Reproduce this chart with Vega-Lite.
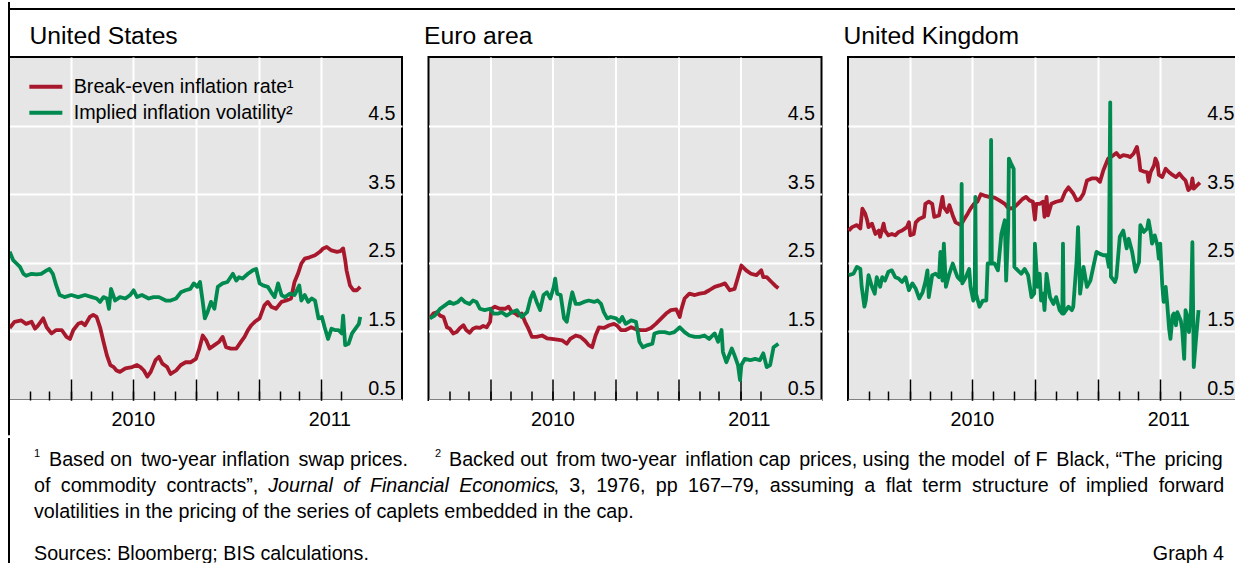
{
"$schema": "https://vega.github.io/schema/vega-lite/v6.json",
"padding": {"left": 6, "top": 0, "right": -5, "bottom": -3},
"background": "white",
"config": {
  "font": "Liberation Sans",
  "view": {"stroke": "black", "strokeWidth": 2, "fill": "#e6e6e6"},
  "axis": {"labelFont": "Liberation Sans", "titleFont": "Liberation Sans"},
  "legend": {"labelFont": "Liberation Sans"},
  "text": {"font": "Liberation Sans"}
},
"datasets": {
"us": [
{"date":"2010-01-02","series":"bei","value":1.55},{"date":"2010-01-09","series":"bei","value":1.64},{"date":"2010-01-19","series":"bei","value":1.66},{"date":"2010-01-26","series":"bei","value":1.61},{"date":"2010-02-03","series":"bei","value":1.64},{"date":"2010-02-08","series":"bei","value":1.54},{"date":"2010-02-12","series":"bei","value":1.58},{"date":"2010-02-20","series":"bei","value":1.69},{"date":"2010-02-25","series":"bei","value":1.56},{"date":"2010-03-04","series":"bei","value":1.47},{"date":"2010-03-11","series":"bei","value":1.52},{"date":"2010-03-19","series":"bei","value":1.52},{"date":"2010-03-26","series":"bei","value":1.42},{"date":"2010-03-31","series":"bei","value":1.39},{"date":"2010-04-05","series":"bei","value":1.52},{"date":"2010-04-12","series":"bei","value":1.61},{"date":"2010-04-17","series":"bei","value":1.63},{"date":"2010-04-22","series":"bei","value":1.59},{"date":"2010-04-29","series":"bei","value":1.71},{"date":"2010-05-04","series":"bei","value":1.74},{"date":"2010-05-09","series":"bei","value":1.71},{"date":"2010-05-14","series":"bei","value":1.56},{"date":"2010-05-19","series":"bei","value":1.35},{"date":"2010-05-24","series":"bei","value":1.15},{"date":"2010-05-29","series":"bei","value":1.01},{"date":"2010-06-03","series":"bei","value":0.98},{"date":"2010-06-07","series":"bei","value":0.93},{"date":"2010-06-12","series":"bei","value":0.91},{"date":"2010-06-20","series":"bei","value":0.96},{"date":"2010-06-30","series":"bei","value":0.98},{"date":"2010-07-07","series":"bei","value":1.01},{"date":"2010-07-12","series":"bei","value":0.98},{"date":"2010-07-17","series":"bei","value":0.93},{"date":"2010-07-22","series":"bei","value":0.84},{"date":"2010-07-27","series":"bei","value":0.91},{"date":"2010-08-03","series":"bei","value":1.08},{"date":"2010-08-08","series":"bei","value":1.13},{"date":"2010-08-13","series":"bei","value":1.03},{"date":"2010-08-20","series":"bei","value":0.98},{"date":"2010-08-25","series":"bei","value":0.88},{"date":"2010-09-02","series":"bei","value":0.93},{"date":"2010-09-09","series":"bei","value":1.01},{"date":"2010-09-16","series":"bei","value":1.05},{"date":"2010-09-23","series":"bei","value":1.05},{"date":"2010-10-01","series":"bei","value":1.10},{"date":"2010-10-06","series":"bei","value":1.25},{"date":"2010-10-11","series":"bei","value":1.44},{"date":"2010-10-16","series":"bei","value":1.37},{"date":"2010-10-21","series":"bei","value":1.25},{"date":"2010-10-28","series":"bei","value":1.30},{"date":"2010-11-04","series":"bei","value":1.35},{"date":"2010-11-09","series":"bei","value":1.42},{"date":"2010-11-14","series":"bei","value":1.27},{"date":"2010-11-21","series":"bei","value":1.25},{"date":"2010-11-29","series":"bei","value":1.25},{"date":"2010-12-06","series":"bei","value":1.35},{"date":"2010-12-11","series":"bei","value":1.42},{"date":"2010-12-16","series":"bei","value":1.52},{"date":"2010-12-21","series":"bei","value":1.59},{"date":"2010-12-26","series":"bei","value":1.64},{"date":"2011-01-02","series":"bei","value":1.69},{"date":"2011-01-09","series":"bei","value":1.88},{"date":"2011-01-14","series":"bei","value":1.93},{"date":"2011-01-19","series":"bei","value":1.86},{"date":"2011-01-26","series":"bei","value":1.83},{"date":"2011-02-03","series":"bei","value":1.93},{"date":"2011-02-10","series":"bei","value":1.95},{"date":"2011-02-17","series":"bei","value":1.98},{"date":"2011-02-22","series":"bei","value":2.22},{"date":"2011-02-27","series":"bei","value":2.34},{"date":"2011-03-04","series":"bei","value":2.49},{"date":"2011-03-09","series":"bei","value":2.56},{"date":"2011-03-16","series":"bei","value":2.58},{"date":"2011-03-24","series":"bei","value":2.61},{"date":"2011-03-31","series":"bei","value":2.66},{"date":"2011-04-05","series":"bei","value":2.71},{"date":"2011-04-10","series":"bei","value":2.73},{"date":"2011-04-17","series":"bei","value":2.68},{"date":"2011-04-25","series":"bei","value":2.66},{"date":"2011-04-30","series":"bei","value":2.67},{"date":"2011-05-04","series":"bei","value":2.71},{"date":"2011-05-07","series":"bei","value":2.54},{"date":"2011-05-09","series":"bei","value":2.39},{"date":"2011-05-14","series":"bei","value":2.17},{"date":"2011-05-19","series":"bei","value":2.10},{"date":"2011-05-24","series":"bei","value":2.10},{"date":"2011-05-29","series":"bei","value":2.15},
{"date":"2010-01-02","series":"vol","value":2.66},{"date":"2010-01-07","series":"vol","value":2.54},{"date":"2010-01-12","series":"vol","value":2.49},{"date":"2010-01-17","series":"vol","value":2.44},{"date":"2010-01-22","series":"vol","value":2.34},{"date":"2010-01-26","series":"vol","value":2.31},{"date":"2010-02-03","series":"vol","value":2.34},{"date":"2010-02-10","series":"vol","value":2.33},{"date":"2010-02-17","series":"vol","value":2.34},{"date":"2010-02-25","series":"vol","value":2.39},{"date":"2010-03-01","series":"vol","value":2.41},{"date":"2010-03-06","series":"vol","value":2.34},{"date":"2010-03-11","series":"vol","value":2.17},{"date":"2010-03-16","series":"vol","value":2.03},{"date":"2010-03-23","series":"vol","value":2.00},{"date":"2010-04-02","series":"vol","value":2.03},{"date":"2010-04-12","series":"vol","value":2.00},{"date":"2010-04-22","series":"vol","value":2.03},{"date":"2010-05-02","series":"vol","value":2.00},{"date":"2010-05-09","series":"vol","value":1.98},{"date":"2010-05-14","series":"vol","value":1.93},{"date":"2010-05-19","series":"vol","value":2.00},{"date":"2010-05-24","series":"vol","value":1.98},{"date":"2010-05-27","series":"vol","value":1.83},{"date":"2010-05-30","series":"vol","value":2.12},{"date":"2010-06-05","series":"vol","value":1.95},{"date":"2010-06-12","series":"vol","value":2.00},{"date":"2010-06-20","series":"vol","value":1.98},{"date":"2010-06-27","series":"vol","value":2.03},{"date":"2010-07-02","series":"vol","value":2.10},{"date":"2010-07-07","series":"vol","value":2.00},{"date":"2010-07-14","series":"vol","value":2.03},{"date":"2010-07-24","series":"vol","value":1.98},{"date":"2010-07-31","series":"vol","value":2.00},{"date":"2010-08-08","series":"vol","value":2.00},{"date":"2010-08-18","series":"vol","value":1.95},{"date":"2010-08-25","series":"vol","value":1.95},{"date":"2010-09-02","series":"vol","value":1.98},{"date":"2010-09-09","series":"vol","value":2.07},{"date":"2010-09-16","series":"vol","value":2.10},{"date":"2010-09-23","series":"vol","value":2.12},{"date":"2010-09-28","series":"vol","value":2.20},{"date":"2010-10-03","series":"vol","value":2.15},{"date":"2010-10-07","series":"vol","value":2.22},{"date":"2010-10-11","series":"vol","value":1.93},{"date":"2010-10-14","series":"vol","value":1.69},{"date":"2010-10-18","series":"vol","value":1.78},{"date":"2010-10-23","series":"vol","value":1.93},{"date":"2010-10-28","series":"vol","value":1.83},{"date":"2010-11-02","series":"vol","value":2.15},{"date":"2010-11-09","series":"vol","value":2.20},{"date":"2010-11-16","series":"vol","value":2.22},{"date":"2010-11-24","series":"vol","value":2.34},{"date":"2010-11-29","series":"vol","value":2.24},{"date":"2010-12-03","series":"vol","value":2.29},{"date":"2010-12-08","series":"vol","value":2.27},{"date":"2010-12-16","series":"vol","value":2.34},{"date":"2010-12-23","series":"vol","value":2.39},{"date":"2010-12-28","series":"vol","value":2.41},{"date":"2011-01-02","series":"vol","value":2.20},{"date":"2011-01-07","series":"vol","value":2.17},{"date":"2011-01-14","series":"vol","value":2.15},{"date":"2011-01-19","series":"vol","value":2.07},{"date":"2011-01-24","series":"vol","value":2.00},{"date":"2011-01-29","series":"vol","value":2.20},{"date":"2011-02-03","series":"vol","value":2.03},{"date":"2011-02-08","series":"vol","value":2.00},{"date":"2011-02-15","series":"vol","value":2.05},{"date":"2011-02-22","series":"vol","value":2.03},{"date":"2011-03-01","series":"vol","value":2.17},{"date":"2011-03-04","series":"vol","value":1.95},{"date":"2011-03-09","series":"vol","value":2.03},{"date":"2011-03-14","series":"vol","value":1.93},{"date":"2011-03-19","series":"vol","value":1.98},{"date":"2011-03-24","series":"vol","value":1.95},{"date":"2011-03-29","series":"vol","value":1.69},{"date":"2011-04-03","series":"vol","value":1.71},{"date":"2011-04-07","series":"vol","value":1.56},{"date":"2011-04-12","series":"vol","value":1.39},{"date":"2011-04-17","series":"vol","value":1.54},{"date":"2011-04-22","series":"vol","value":1.52},{"date":"2011-04-27","series":"vol","value":1.52},{"date":"2011-05-02","series":"vol","value":1.47},{"date":"2011-05-04","series":"vol","value":1.73},{"date":"2011-05-07","series":"vol","value":1.30},{"date":"2011-05-12","series":"vol","value":1.32},{"date":"2011-05-17","series":"vol","value":1.47},{"date":"2011-05-22","series":"vol","value":1.54},{"date":"2011-05-27","series":"vol","value":1.61},{"date":"2011-05-29","series":"vol","value":1.71}
],
"ea": [
{"date":"2010-01-03","series":"bei","value":1.69},{"date":"2010-01-08","series":"bei","value":1.76},{"date":"2010-01-13","series":"bei","value":1.78},{"date":"2010-01-18","series":"bei","value":1.73},{"date":"2010-01-23","series":"bei","value":1.71},{"date":"2010-01-28","series":"bei","value":1.56},{"date":"2010-02-01","series":"bei","value":1.54},{"date":"2010-02-06","series":"bei","value":1.47},{"date":"2010-02-11","series":"bei","value":1.49},{"date":"2010-02-16","series":"bei","value":1.55},{"date":"2010-02-21","series":"bei","value":1.59},{"date":"2010-02-25","series":"bei","value":1.52},{"date":"2010-03-02","series":"bei","value":1.48},{"date":"2010-03-07","series":"bei","value":1.54},{"date":"2010-03-12","series":"bei","value":1.56},{"date":"2010-03-17","series":"bei","value":1.55},{"date":"2010-03-22","series":"bei","value":1.58},{"date":"2010-03-27","series":"bei","value":1.56},{"date":"2010-04-01","series":"bei","value":1.64},{"date":"2010-04-03","series":"bei","value":1.83},{"date":"2010-04-08","series":"bei","value":1.86},{"date":"2010-04-15","series":"bei","value":1.83},{"date":"2010-04-23","series":"bei","value":1.83},{"date":"2010-04-28","series":"bei","value":1.86},{"date":"2010-05-03","series":"bei","value":1.78},{"date":"2010-05-08","series":"bei","value":1.76},{"date":"2010-05-12","series":"bei","value":1.73},{"date":"2010-05-17","series":"bei","value":1.76},{"date":"2010-05-22","series":"bei","value":1.64},{"date":"2010-05-27","series":"bei","value":1.54},{"date":"2010-06-01","series":"bei","value":1.42},{"date":"2010-06-08","series":"bei","value":1.42},{"date":"2010-06-16","series":"bei","value":1.44},{"date":"2010-06-23","series":"bei","value":1.40},{"date":"2010-06-30","series":"bei","value":1.39},{"date":"2010-07-08","series":"bei","value":1.38},{"date":"2010-07-15","series":"bei","value":1.37},{"date":"2010-07-22","series":"bei","value":1.32},{"date":"2010-07-27","series":"bei","value":1.39},{"date":"2010-08-04","series":"bei","value":1.44},{"date":"2010-08-11","series":"bei","value":1.42},{"date":"2010-08-18","series":"bei","value":1.36},{"date":"2010-08-23","series":"bei","value":1.30},{"date":"2010-08-28","series":"bei","value":1.27},{"date":"2010-09-02","series":"bei","value":1.44},{"date":"2010-09-07","series":"bei","value":1.56},{"date":"2010-09-14","series":"bei","value":1.55},{"date":"2010-09-22","series":"bei","value":1.59},{"date":"2010-09-29","series":"bei","value":1.61},{"date":"2010-10-04","series":"bei","value":1.58},{"date":"2010-10-09","series":"bei","value":1.52},{"date":"2010-10-16","series":"bei","value":1.52},{"date":"2010-10-24","series":"bei","value":1.56},{"date":"2010-10-31","series":"bei","value":1.53},{"date":"2010-11-07","series":"bei","value":1.52},{"date":"2010-11-15","series":"bei","value":1.52},{"date":"2010-11-22","series":"bei","value":1.55},{"date":"2010-11-29","series":"bei","value":1.61},{"date":"2010-12-07","series":"bei","value":1.69},{"date":"2010-12-14","series":"bei","value":1.76},{"date":"2010-12-21","series":"bei","value":1.81},{"date":"2010-12-29","series":"bei","value":1.82},{"date":"2011-01-03","series":"bei","value":1.71},{"date":"2011-01-05","series":"bei","value":1.81},{"date":"2011-01-10","series":"bei","value":1.98},{"date":"2011-01-17","series":"bei","value":2.05},{"date":"2011-01-25","series":"bei","value":2.03},{"date":"2011-02-01","series":"bei","value":2.05},{"date":"2011-02-08","series":"bei","value":2.06},{"date":"2011-02-15","series":"bei","value":2.10},{"date":"2011-02-23","series":"bei","value":2.15},{"date":"2011-03-02","series":"bei","value":2.17},{"date":"2011-03-10","series":"bei","value":2.20},{"date":"2011-03-17","series":"bei","value":2.10},{"date":"2011-03-24","series":"bei","value":2.12},{"date":"2011-03-29","series":"bei","value":2.29},{"date":"2011-04-03","series":"bei","value":2.46},{"date":"2011-04-10","series":"bei","value":2.39},{"date":"2011-04-17","series":"bei","value":2.34},{"date":"2011-04-25","series":"bei","value":2.32},{"date":"2011-05-02","series":"bei","value":2.39},{"date":"2011-05-05","series":"bei","value":2.29},{"date":"2011-05-10","series":"bei","value":2.29},{"date":"2011-05-17","series":"bei","value":2.22},{"date":"2011-05-22","series":"bei","value":2.17},{"date":"2011-05-27","series":"bei","value":2.13},
{"date":"2010-01-03","series":"vol","value":1.69},{"date":"2010-01-10","series":"vol","value":1.73},{"date":"2010-01-18","series":"vol","value":1.83},{"date":"2010-01-25","series":"vol","value":1.88},{"date":"2010-02-01","series":"vol","value":1.93},{"date":"2010-02-06","series":"vol","value":1.90},{"date":"2010-02-13","series":"vol","value":1.93},{"date":"2010-02-18","series":"vol","value":1.98},{"date":"2010-02-23","series":"vol","value":1.93},{"date":"2010-03-02","series":"vol","value":1.90},{"date":"2010-03-07","series":"vol","value":1.95},{"date":"2010-03-12","series":"vol","value":1.93},{"date":"2010-03-17","series":"vol","value":1.83},{"date":"2010-03-24","series":"vol","value":1.81},{"date":"2010-04-01","series":"vol","value":1.83},{"date":"2010-04-06","series":"vol","value":1.76},{"date":"2010-04-13","series":"vol","value":1.76},{"date":"2010-04-18","series":"vol","value":1.78},{"date":"2010-04-25","series":"vol","value":1.73},{"date":"2010-05-03","series":"vol","value":1.78},{"date":"2010-05-10","series":"vol","value":1.81},{"date":"2010-05-17","series":"vol","value":1.71},{"date":"2010-05-25","series":"vol","value":1.78},{"date":"2010-05-30","series":"vol","value":1.98},{"date":"2010-06-03","series":"vol","value":2.07},{"date":"2010-06-08","series":"vol","value":1.93},{"date":"2010-06-13","series":"vol","value":1.81},{"date":"2010-06-18","series":"vol","value":2.03},{"date":"2010-06-23","series":"vol","value":2.07},{"date":"2010-06-28","series":"vol","value":1.98},{"date":"2010-07-03","series":"vol","value":2.15},{"date":"2010-07-05","series":"vol","value":2.27},{"date":"2010-07-08","series":"vol","value":2.05},{"date":"2010-07-13","series":"vol","value":2.03},{"date":"2010-07-18","series":"vol","value":1.69},{"date":"2010-07-22","series":"vol","value":1.64},{"date":"2010-07-27","series":"vol","value":1.93},{"date":"2010-07-30","series":"vol","value":2.07},{"date":"2010-08-04","series":"vol","value":1.90},{"date":"2010-08-09","series":"vol","value":1.90},{"date":"2010-08-16","series":"vol","value":1.93},{"date":"2010-08-23","series":"vol","value":1.95},{"date":"2010-08-31","series":"vol","value":1.93},{"date":"2010-09-05","series":"vol","value":1.95},{"date":"2010-09-10","series":"vol","value":1.90},{"date":"2010-09-14","series":"vol","value":1.78},{"date":"2010-09-19","series":"vol","value":1.69},{"date":"2010-09-24","series":"vol","value":1.71},{"date":"2010-10-02","series":"vol","value":1.69},{"date":"2010-10-07","series":"vol","value":1.64},{"date":"2010-10-11","series":"vol","value":1.71},{"date":"2010-10-16","series":"vol","value":1.61},{"date":"2010-10-24","series":"vol","value":1.66},{"date":"2010-10-31","series":"vol","value":1.64},{"date":"2010-11-05","series":"vol","value":1.35},{"date":"2010-11-10","series":"vol","value":1.27},{"date":"2010-11-17","series":"vol","value":1.30},{"date":"2010-11-24","series":"vol","value":1.32},{"date":"2010-11-27","series":"vol","value":1.47},{"date":"2010-12-04","series":"vol","value":1.49},{"date":"2010-12-12","series":"vol","value":1.49},{"date":"2010-12-19","series":"vol","value":1.47},{"date":"2010-12-26","series":"vol","value":1.49},{"date":"2011-01-03","series":"vol","value":1.56},{"date":"2011-01-10","series":"vol","value":1.49},{"date":"2011-01-17","series":"vol","value":1.44},{"date":"2011-01-25","series":"vol","value":1.42},{"date":"2011-02-01","series":"vol","value":1.42},{"date":"2011-02-08","series":"vol","value":1.44},{"date":"2011-02-15","series":"vol","value":1.39},{"date":"2011-02-23","series":"vol","value":1.47},{"date":"2011-02-28","series":"vol","value":1.35},{"date":"2011-03-05","series":"vol","value":1.52},{"date":"2011-03-07","series":"vol","value":1.20},{"date":"2011-03-12","series":"vol","value":1.05},{"date":"2011-03-20","series":"vol","value":1.25},{"date":"2011-03-24","series":"vol","value":1.15},{"date":"2011-03-29","series":"vol","value":1.01},{"date":"2011-04-01","series":"vol","value":0.79},{"date":"2011-04-03","series":"vol","value":1.01},{"date":"2011-04-08","series":"vol","value":1.10},{"date":"2011-04-16","series":"vol","value":1.08},{"date":"2011-04-23","series":"vol","value":1.10},{"date":"2011-04-30","series":"vol","value":1.08},{"date":"2011-05-05","series":"vol","value":1.18},{"date":"2011-05-10","series":"vol","value":0.98},{"date":"2011-05-15","series":"vol","value":1.01},{"date":"2011-05-20","series":"vol","value":1.27},{"date":"2011-05-27","series":"vol","value":1.32}
],
"uk": [
{"date":"2010-01-02","series":"bei","value":2.97},{"date":"2010-01-07","series":"bei","value":3.02},{"date":"2010-01-14","series":"bei","value":3.05},{"date":"2010-01-19","series":"bei","value":3.00},{"date":"2010-01-22","series":"bei","value":3.29},{"date":"2010-01-26","series":"bei","value":3.22},{"date":"2010-01-29","series":"bei","value":3.12},{"date":"2010-01-31","series":"bei","value":3.02},{"date":"2010-02-05","series":"bei","value":3.07},{"date":"2010-02-10","series":"bei","value":2.92},{"date":"2010-02-15","series":"bei","value":2.97},{"date":"2010-02-17","series":"bei","value":2.88},{"date":"2010-02-22","series":"bei","value":3.07},{"date":"2010-02-24","series":"bei","value":2.97},{"date":"2010-03-01","series":"bei","value":2.90},{"date":"2010-03-06","series":"bei","value":2.92},{"date":"2010-03-11","series":"bei","value":2.90},{"date":"2010-03-16","series":"bei","value":2.95},{"date":"2010-03-21","series":"bei","value":2.97},{"date":"2010-03-28","series":"bei","value":3.02},{"date":"2010-03-31","series":"bei","value":3.09},{"date":"2010-04-02","series":"bei","value":2.90},{"date":"2010-04-07","series":"bei","value":2.92},{"date":"2010-04-10","series":"bei","value":3.09},{"date":"2010-04-15","series":"bei","value":3.14},{"date":"2010-04-22","series":"bei","value":3.17},{"date":"2010-04-24","series":"bei","value":3.36},{"date":"2010-04-29","series":"bei","value":3.39},{"date":"2010-05-04","series":"bei","value":3.36},{"date":"2010-05-07","series":"bei","value":3.17},{"date":"2010-05-14","series":"bei","value":3.19},{"date":"2010-05-19","series":"bei","value":3.46},{"date":"2010-05-21","series":"bei","value":3.31},{"date":"2010-05-26","series":"bei","value":3.24},{"date":"2010-05-29","series":"bei","value":3.34},{"date":"2010-06-03","series":"bei","value":3.19},{"date":"2010-06-07","series":"bei","value":3.09},{"date":"2010-06-15","series":"bei","value":3.05},{"date":"2010-06-20","series":"bei","value":3.14},{"date":"2010-06-25","series":"bei","value":3.22},{"date":"2010-06-29","series":"bei","value":3.29},{"date":"2010-07-04","series":"bei","value":3.36},{"date":"2010-07-09","series":"bei","value":3.39},{"date":"2010-07-14","series":"bei","value":3.50},{"date":"2010-07-19","series":"bei","value":3.48},{"date":"2010-07-26","series":"bei","value":3.46},{"date":"2010-08-03","series":"bei","value":3.45},{"date":"2010-08-10","series":"bei","value":3.41},{"date":"2010-08-18","series":"bei","value":3.36},{"date":"2010-08-22","series":"bei","value":3.31},{"date":"2010-08-27","series":"bei","value":3.29},{"date":"2010-09-01","series":"bei","value":3.31},{"date":"2010-09-06","series":"bei","value":3.36},{"date":"2010-09-13","series":"bei","value":3.43},{"date":"2010-09-18","series":"bei","value":3.46},{"date":"2010-09-23","series":"bei","value":3.41},{"date":"2010-09-28","series":"bei","value":3.39},{"date":"2010-10-01","series":"bei","value":3.13},{"date":"2010-10-03","series":"bei","value":3.36},{"date":"2010-10-08","series":"bei","value":3.36},{"date":"2010-10-13","series":"bei","value":3.39},{"date":"2010-10-15","series":"bei","value":3.17},{"date":"2010-10-18","series":"bei","value":3.46},{"date":"2010-10-20","series":"bei","value":3.19},{"date":"2010-10-25","series":"bei","value":3.36},{"date":"2010-11-01","series":"bei","value":3.39},{"date":"2010-11-09","series":"bei","value":3.41},{"date":"2010-11-14","series":"bei","value":3.53},{"date":"2010-11-19","series":"bei","value":3.60},{"date":"2010-11-26","series":"bei","value":3.51},{"date":"2010-12-01","series":"bei","value":3.41},{"date":"2010-12-06","series":"bei","value":3.43},{"date":"2010-12-11","series":"bei","value":3.51},{"date":"2010-12-16","series":"bei","value":3.70},{"date":"2010-12-23","series":"bei","value":3.73},{"date":"2010-12-30","series":"bei","value":3.73},{"date":"2011-01-04","series":"bei","value":3.68},{"date":"2011-01-09","series":"bei","value":3.85},{"date":"2011-01-16","series":"bei","value":4.02},{"date":"2011-01-24","series":"bei","value":4.07},{"date":"2011-01-28","series":"bei","value":4.10},{"date":"2011-02-02","series":"bei","value":4.04},{"date":"2011-02-07","series":"bei","value":4.07},{"date":"2011-02-13","series":"bei","value":4.06},{"date":"2011-02-17","series":"bei","value":4.04},{"date":"2011-02-22","series":"bei","value":4.09},{"date":"2011-02-27","series":"bei","value":4.19},{"date":"2011-03-02","series":"bei","value":4.02},{"date":"2011-03-04","series":"bei","value":3.85},{"date":"2011-03-09","series":"bei","value":3.83},{"date":"2011-03-14","series":"bei","value":3.82},{"date":"2011-03-16","series":"bei","value":3.68},{"date":"2011-03-19","series":"bei","value":3.82},{"date":"2011-03-24","series":"bei","value":3.92},{"date":"2011-03-26","series":"bei","value":4.02},{"date":"2011-03-29","series":"bei","value":3.95},{"date":"2011-03-31","series":"bei","value":3.78},{"date":"2011-04-05","series":"bei","value":3.75},{"date":"2011-04-10","series":"bei","value":3.87},{"date":"2011-04-15","series":"bei","value":3.82},{"date":"2011-04-20","series":"bei","value":3.78},{"date":"2011-04-25","series":"bei","value":3.75},{"date":"2011-04-30","series":"bei","value":3.80},{"date":"2011-05-04","series":"bei","value":3.75},{"date":"2011-05-09","series":"bei","value":3.70},{"date":"2011-05-13","series":"bei","value":3.56},{"date":"2011-05-17","series":"bei","value":3.60},{"date":"2011-05-19","series":"bei","value":3.73},{"date":"2011-05-21","series":"bei","value":3.58},{"date":"2011-05-26","series":"bei","value":3.63},{"date":"2011-05-30","series":"bei","value":3.67},
{"date":"2010-01-02","series":"vol","value":2.32},{"date":"2010-01-09","series":"vol","value":2.34},{"date":"2010-01-14","series":"vol","value":2.44},{"date":"2010-01-19","series":"vol","value":2.41},{"date":"2010-01-21","series":"vol","value":2.15},{"date":"2010-01-25","series":"vol","value":1.86},{"date":"2010-01-27","series":"vol","value":1.95},{"date":"2010-01-31","series":"vol","value":2.32},{"date":"2010-02-05","series":"vol","value":2.15},{"date":"2010-02-09","series":"vol","value":2.05},{"date":"2010-02-12","series":"vol","value":2.29},{"date":"2010-02-17","series":"vol","value":2.15},{"date":"2010-02-20","series":"vol","value":2.29},{"date":"2010-02-24","series":"vol","value":2.24},{"date":"2010-03-01","series":"vol","value":2.37},{"date":"2010-03-06","series":"vol","value":2.39},{"date":"2010-03-11","series":"vol","value":2.29},{"date":"2010-03-16","series":"vol","value":2.27},{"date":"2010-03-21","series":"vol","value":2.22},{"date":"2010-03-26","series":"vol","value":2.29},{"date":"2010-03-31","series":"vol","value":2.10},{"date":"2010-04-05","series":"vol","value":2.20},{"date":"2010-04-10","series":"vol","value":2.12},{"date":"2010-04-15","series":"vol","value":1.98},{"date":"2010-04-20","series":"vol","value":2.07},{"date":"2010-04-24","series":"vol","value":2.22},{"date":"2010-04-27","series":"vol","value":2.39},{"date":"2010-04-29","series":"vol","value":2.00},{"date":"2010-05-04","series":"vol","value":2.32},{"date":"2010-05-09","series":"vol","value":2.34},{"date":"2010-05-14","series":"vol","value":2.29},{"date":"2010-05-16","series":"vol","value":2.66},{"date":"2010-05-19","series":"vol","value":2.24},{"date":"2010-05-21","series":"vol","value":2.78},{"date":"2010-05-24","series":"vol","value":2.15},{"date":"2010-05-29","series":"vol","value":2.34},{"date":"2010-06-03","series":"vol","value":2.49},{"date":"2010-06-07","series":"vol","value":2.37},{"date":"2010-06-10","series":"vol","value":2.29},{"date":"2010-06-15","series":"vol","value":2.24},{"date":"2010-06-16","series":"vol","value":3.65},{"date":"2010-06-17","series":"vol","value":2.20},{"date":"2010-06-22","series":"vol","value":2.29},{"date":"2010-06-27","series":"vol","value":2.41},{"date":"2010-06-29","series":"vol","value":2.15},{"date":"2010-07-03","series":"vol","value":1.95},{"date":"2010-07-05","series":"vol","value":2.00},{"date":"2010-07-06","series":"vol","value":3.46},{"date":"2010-07-07","series":"vol","value":2.05},{"date":"2010-07-12","series":"vol","value":1.86},{"date":"2010-07-17","series":"vol","value":1.95},{"date":"2010-07-22","series":"vol","value":1.95},{"date":"2010-07-24","series":"vol","value":2.49},{"date":"2010-07-28","series":"vol","value":2.49},{"date":"2010-07-29","series":"vol","value":4.29},{"date":"2010-07-30","series":"vol","value":2.49},{"date":"2010-08-03","series":"vol","value":2.49},{"date":"2010-08-08","series":"vol","value":2.39},{"date":"2010-08-13","series":"vol","value":2.92},{"date":"2010-08-18","series":"vol","value":3.12},{"date":"2010-08-20","series":"vol","value":2.24},{"date":"2010-08-23","series":"vol","value":3.02},{"date":"2010-08-24","series":"vol","value":4.02},{"date":"2010-08-27","series":"vol","value":3.95},{"date":"2010-08-31","series":"vol","value":3.87},{"date":"2010-09-01","series":"vol","value":2.44},{"date":"2010-09-06","series":"vol","value":2.39},{"date":"2010-09-11","series":"vol","value":2.34},{"date":"2010-09-16","series":"vol","value":2.41},{"date":"2010-09-21","series":"vol","value":2.32},{"date":"2010-09-26","series":"vol","value":2.00},{"date":"2010-09-30","series":"vol","value":2.05},{"date":"2010-10-01","series":"vol","value":2.78},{"date":"2010-10-03","series":"vol","value":2.44},{"date":"2010-10-05","series":"vol","value":2.15},{"date":"2010-10-08","series":"vol","value":2.34},{"date":"2010-10-10","series":"vol","value":1.95},{"date":"2010-10-13","series":"vol","value":2.05},{"date":"2010-10-15","series":"vol","value":1.81},{"date":"2010-10-18","series":"vol","value":2.34},{"date":"2010-10-23","series":"vol","value":2.00},{"date":"2010-10-28","series":"vol","value":1.90},{"date":"2010-11-01","series":"vol","value":2.00},{"date":"2010-11-06","series":"vol","value":1.81},{"date":"2010-11-10","series":"vol","value":1.76},{"date":"2010-11-11","series":"vol","value":2.78},{"date":"2010-11-12","series":"vol","value":1.76},{"date":"2010-11-19","series":"vol","value":1.86},{"date":"2010-11-24","series":"vol","value":1.81},{"date":"2010-11-26","series":"vol","value":1.86},{"date":"2010-12-01","series":"vol","value":2.54},{"date":"2010-12-03","series":"vol","value":3.02},{"date":"2010-12-06","series":"vol","value":2.05},{"date":"2010-12-11","series":"vol","value":2.44},{"date":"2010-12-16","series":"vol","value":2.15},{"date":"2010-12-21","series":"vol","value":2.24},{"date":"2010-12-30","series":"vol","value":2.66},{"date":"2011-01-04","series":"vol","value":2.63},{"date":"2011-01-09","series":"vol","value":2.61},{"date":"2011-01-14","series":"vol","value":2.61},{"date":"2011-01-17","series":"vol","value":2.44},{"date":"2011-01-19","series":"vol","value":4.84},{"date":"2011-01-20","series":"vol","value":2.30},{"date":"2011-01-26","series":"vol","value":2.22},{"date":"2011-01-28","series":"vol","value":2.29},{"date":"2011-02-02","series":"vol","value":2.88},{"date":"2011-02-07","series":"vol","value":2.97},{"date":"2011-02-12","series":"vol","value":2.71},{"date":"2011-02-15","series":"vol","value":2.85},{"date":"2011-02-20","series":"vol","value":2.66},{"date":"2011-02-25","series":"vol","value":2.37},{"date":"2011-03-02","series":"vol","value":2.51},{"date":"2011-03-04","series":"vol","value":3.05},{"date":"2011-03-09","series":"vol","value":2.95},{"date":"2011-03-14","series":"vol","value":3.00},{"date":"2011-03-16","series":"vol","value":3.12},{"date":"2011-03-19","series":"vol","value":2.95},{"date":"2011-03-21","series":"vol","value":2.78},{"date":"2011-03-25","series":"vol","value":2.90},{"date":"2011-03-29","series":"vol","value":2.75},{"date":"2011-03-31","series":"vol","value":2.56},{"date":"2011-04-02","series":"vol","value":2.78},{"date":"2011-04-05","series":"vol","value":2.17},{"date":"2011-04-07","series":"vol","value":1.93},{"date":"2011-04-10","series":"vol","value":2.15},{"date":"2011-04-12","series":"vol","value":1.93},{"date":"2011-04-15","series":"vol","value":1.54},{"date":"2011-04-17","series":"vol","value":1.39},{"date":"2011-04-20","series":"vol","value":1.73},{"date":"2011-04-22","series":"vol","value":1.76},{"date":"2011-04-25","series":"vol","value":1.59},{"date":"2011-04-27","series":"vol","value":1.78},{"date":"2011-05-02","series":"vol","value":1.66},{"date":"2011-05-04","series":"vol","value":1.54},{"date":"2011-05-07","series":"vol","value":1.10},{"date":"2011-05-09","series":"vol","value":1.81},{"date":"2011-05-12","series":"vol","value":1.69},{"date":"2011-05-14","series":"vol","value":1.49},{"date":"2011-05-17","series":"vol","value":1.83},{"date":"2011-05-19","series":"vol","value":2.80},{"date":"2011-05-21","series":"vol","value":0.98},{"date":"2011-05-24","series":"vol","value":1.35},{"date":"2011-05-26","series":"vol","value":1.59},{"date":"2011-05-28","series":"vol","value":1.81}
]
},
"spacing": 0,
"vconcat": [
{
  "hconcat": [
    {
      "width": 393, "height": 343,
      "data": {"name": "us"},
      "resolve": {"axis": {"x": "independent"}},
      "layer": [
        {"transform": [{"filter": "datum.series == 'bei'"}],
         "mark": {"type": "line", "strokeWidth": 3.8, "strokeJoin": "round"},
         "encoding": {
           "x": {"field": "date", "type": "temporal",
                 "scale": {"type": "utc", "domain": [{"year": 2010, "month": 1, "date": 1, "utc": true}, {"year": 2011, "month": 7, "date": 29, "utc": true}]},
                 "axis": {"orient": "bottom", "domain": false, "grid": false, "labels": false,
                   "values": [{"year":2010,"month":2,"date":1,"utc":true},{"year":2010,"month":3,"date":1,"utc":true},{"year":2010,"month":4,"date":1,"utc":true},{"year":2010,"month":5,"date":1,"utc":true},{"year":2010,"month":6,"date":1,"utc":true},{"year":2010,"month":7,"date":1,"utc":true},{"year":2010,"month":8,"date":1,"utc":true},{"year":2010,"month":9,"date":1,"utc":true},{"year":2010,"month":10,"date":1,"utc":true},{"year":2010,"month":11,"date":1,"utc":true},{"year":2010,"month":12,"date":1,"utc":true},{"year":2011,"month":1,"date":1,"utc":true},{"year":2011,"month":2,"date":1,"utc":true},{"year":2011,"month":3,"date":1,"utc":true},{"year":2011,"month":4,"date":1,"utc":true},{"year":2011,"month":5,"date":1,"utc":true}],
                   "ticks": true, "tickSize": -9, "tickColor": "black", "tickWidth": 1.5,
                   "title": "2010", "titleX": 123.9, "titleY": 25, "titleAlign": "center", "titleBaseline": "alphabetic",
                   "titleFontSize": 19.7, "titleFontWeight": "normal", "titleColor": "black"}},
           "y": {"field": "value", "type": "quantitative",
                 "scale": {"domain": [0.5, 5.5], "nice": false, "zero": false},
                 "axis": {"orient": "right", "values": [0.5, 1.5, 2.5, 3.5, 4.5], "format": ".1f", "domain": false, "ticks": false,
                   "grid": true, "gridColor": "white", "gridWidth": 2,
                   "labelAlign": "right", "labelBaseline": "alphabetic", "labelPadding": -7, "labelOffset": -6, "labelFontSize": 19.7, "labelColor": "black",
                   "title": "United States", "titleAngle": 0, "titleX": -373, "titleY": -14, "titleAlign": "left", "titleBaseline": "alphabetic",
                   "titleFontSize": 24.7, "titleFontWeight": "normal", "titleColor": "black"}},
           "color": {"field": "series", "type": "nominal",
                     "scale": {"domain": ["bei", "vol"], "range": ["#a8182c", "#008a4f"]},
                     "legend": {"orient": "none", "legendX": 27, "legendY": 20, "title": null, "direction": "vertical",
                       "symbolType": "M-3,0H3", "symbolSize": 121, "symbolStrokeWidth": 4,
                       "labelFontSize": 19.7, "labelColor": "black", "labelOffset": 18, "labelLimit": 500, "rowPadding": 5, "padding": 0,
                       "labelExpr": "datum.label == 'bei' ? 'Break-even inflation rate¹' : 'Implied inflation volatility²'"}}
         }},
        {"transform": [{"filter": "datum.series == 'vol'"}],
         "mark": {"type": "line", "strokeWidth": 3.8, "strokeJoin": "round"},
         "encoding": {
           "x": {"field": "date", "type": "temporal",
                 "axis": {"orient": "bottom", "domain": false, "labels": false,
                   "values": [{"year":2010,"month":4,"date":1,"utc":true},{"year":2010,"month":7,"date":1,"utc":true},{"year":2010,"month":10,"date":1,"utc":true},{"year":2011,"month":1,"date":1,"utc":true},{"year":2011,"month":4,"date":1,"utc":true}],
                   "grid": true, "gridColor": "white", "gridWidth": 2,
                   "ticks": true, "tickSize": -21, "tickColor": "black", "tickWidth": 1.5,
                   "title": "2011", "titleX": 320.4, "titleY": 25, "titleAlign": "center", "titleBaseline": "alphabetic",
                   "titleFontSize": 19.7, "titleFontWeight": "normal", "titleColor": "black"}},
           "y": {"field": "value", "type": "quantitative"},
           "color": {"field": "series", "type": "nominal"}
         }},
        {"data": {"values": [{}]},
         "mark": {"type": "rule", "color": "black", "strokeWidth": 2, "strokeCap": "square"},
         "encoding": {
           "x": {"datum": {"year": 2010, "month": 1, "date": 1, "utc": true}, "type": "temporal", "axis": null},
           "y": {"datum": 6.287, "type": "quantitative"},
           "y2": {"datum": 0.0}
         }},
        {"data": {"values": [{}]},
         "mark": {"type": "rule", "color": "black", "strokeWidth": 2},
         "encoding": {
           "x": {"datum": {"year": 2010, "month": 1, "date": 1, "utc": true}, "type": "temporal", "axis": null},
           "x2": {"datum": {"year": 2014, "month": 11, "date": 29, "utc": true}},
           "y": {"datum": 6.2, "type": "quantitative"}
         }}
      ]
    },
    {
      "width": 393, "height": 343,
      "data": {"name": "ea"},
      "resolve": {"axis": {"x": "independent"}},
      "layer": [
        {"transform": [{"filter": "datum.series == 'bei'"}],
         "mark": {"type": "line", "strokeWidth": 3.8, "strokeJoin": "round"},
         "encoding": {
           "x": {"field": "date", "type": "temporal",
                 "scale": {"type": "utc", "domain": [{"year": 2010, "month": 1, "date": 1, "utc": true}, {"year": 2011, "month": 7, "date": 29, "utc": true}]},
                 "axis": {"orient": "bottom", "domain": false, "grid": false, "labels": false,
                   "values": [{"year":2010,"month":2,"date":1,"utc":true},{"year":2010,"month":3,"date":1,"utc":true},{"year":2010,"month":4,"date":1,"utc":true},{"year":2010,"month":5,"date":1,"utc":true},{"year":2010,"month":6,"date":1,"utc":true},{"year":2010,"month":7,"date":1,"utc":true},{"year":2010,"month":8,"date":1,"utc":true},{"year":2010,"month":9,"date":1,"utc":true},{"year":2010,"month":10,"date":1,"utc":true},{"year":2010,"month":11,"date":1,"utc":true},{"year":2010,"month":12,"date":1,"utc":true},{"year":2011,"month":1,"date":1,"utc":true},{"year":2011,"month":2,"date":1,"utc":true},{"year":2011,"month":3,"date":1,"utc":true},{"year":2011,"month":4,"date":1,"utc":true},{"year":2011,"month":5,"date":1,"utc":true}],
                   "ticks": true, "tickSize": -9, "tickColor": "black", "tickWidth": 1.5,
                   "title": "2010", "titleX": 123.9, "titleY": 25, "titleAlign": "center", "titleBaseline": "alphabetic",
                   "titleFontSize": 19.7, "titleFontWeight": "normal", "titleColor": "black"}},
           "y": {"field": "value", "type": "quantitative",
                 "scale": {"domain": [0.5, 5.5], "nice": false, "zero": false},
                 "axis": {"orient": "right", "values": [0.5, 1.5, 2.5, 3.5, 4.5], "format": ".1f", "domain": false, "ticks": false,
                   "grid": true, "gridColor": "white", "gridWidth": 2,
                   "labelAlign": "right", "labelBaseline": "alphabetic", "labelPadding": -7, "labelOffset": -6, "labelFontSize": 19.7, "labelColor": "black",
                   "title": "Euro area", "titleAngle": 0, "titleX": -398, "titleY": -14, "titleAlign": "left", "titleBaseline": "alphabetic",
                   "titleFontSize": 24.7, "titleFontWeight": "normal", "titleColor": "black"}},
           "color": {"field": "series", "type": "nominal",
                     "scale": {"domain": ["bei", "vol"], "range": ["#a8182c", "#008a4f"]}, "legend": null}
         }},
        {"transform": [{"filter": "datum.series == 'vol'"}],
         "mark": {"type": "line", "strokeWidth": 3.8, "strokeJoin": "round"},
         "encoding": {
           "x": {"field": "date", "type": "temporal",
                 "axis": {"orient": "bottom", "domain": false, "labels": false,
                   "values": [{"year":2010,"month":4,"date":1,"utc":true},{"year":2010,"month":7,"date":1,"utc":true},{"year":2010,"month":10,"date":1,"utc":true},{"year":2011,"month":1,"date":1,"utc":true},{"year":2011,"month":4,"date":1,"utc":true}],
                   "grid": true, "gridColor": "white", "gridWidth": 2,
                   "ticks": true, "tickSize": -21, "tickColor": "black", "tickWidth": 1.5,
                   "title": "2011", "titleX": 320.4, "titleY": 25, "titleAlign": "center", "titleBaseline": "alphabetic",
                   "titleFontSize": 19.7, "titleFontWeight": "normal", "titleColor": "black"}},
           "y": {"field": "value", "type": "quantitative"},
           "color": {"field": "series", "type": "nominal", "legend": null}
         }}
      ]
    },
    {
      "width": 393, "height": 343,
      "data": {"name": "uk"},
      "resolve": {"axis": {"x": "independent"}},
      "layer": [
        {"transform": [{"filter": "datum.series == 'bei'"}],
         "mark": {"type": "line", "strokeWidth": 3.8, "strokeJoin": "round"},
         "encoding": {
           "x": {"field": "date", "type": "temporal",
                 "scale": {"type": "utc", "domain": [{"year": 2010, "month": 1, "date": 1, "utc": true}, {"year": 2011, "month": 7, "date": 29, "utc": true}]},
                 "axis": {"orient": "bottom", "domain": false, "grid": false, "labels": false,
                   "values": [{"year":2010,"month":2,"date":1,"utc":true},{"year":2010,"month":3,"date":1,"utc":true},{"year":2010,"month":4,"date":1,"utc":true},{"year":2010,"month":5,"date":1,"utc":true},{"year":2010,"month":6,"date":1,"utc":true},{"year":2010,"month":7,"date":1,"utc":true},{"year":2010,"month":8,"date":1,"utc":true},{"year":2010,"month":9,"date":1,"utc":true},{"year":2010,"month":10,"date":1,"utc":true},{"year":2010,"month":11,"date":1,"utc":true},{"year":2010,"month":12,"date":1,"utc":true},{"year":2011,"month":1,"date":1,"utc":true},{"year":2011,"month":2,"date":1,"utc":true},{"year":2011,"month":3,"date":1,"utc":true},{"year":2011,"month":4,"date":1,"utc":true},{"year":2011,"month":5,"date":1,"utc":true}],
                   "ticks": true, "tickSize": -9, "tickColor": "black", "tickWidth": 1.5,
                   "title": "2010", "titleX": 123.9, "titleY": 25, "titleAlign": "center", "titleBaseline": "alphabetic",
                   "titleFontSize": 19.7, "titleFontWeight": "normal", "titleColor": "black"}},
           "y": {"field": "value", "type": "quantitative",
                 "scale": {"domain": [0.5, 5.5], "nice": false, "zero": false},
                 "axis": {"orient": "right", "values": [0.5, 1.5, 2.5, 3.5, 4.5], "format": ".1f", "domain": false, "ticks": false,
                   "grid": true, "gridColor": "white", "gridWidth": 2,
                   "labelAlign": "right", "labelBaseline": "alphabetic", "labelPadding": -7, "labelOffset": -6, "labelFontSize": 19.7, "labelColor": "black",
                   "title": "United Kingdom", "titleAngle": 0, "titleX": -398, "titleY": -14, "titleAlign": "left", "titleBaseline": "alphabetic",
                   "titleFontSize": 24.7, "titleFontWeight": "normal", "titleColor": "black"}},
           "color": {"field": "series", "type": "nominal",
                     "scale": {"domain": ["bei", "vol"], "range": ["#a8182c", "#008a4f"]}, "legend": null}
         }},
        {"transform": [{"filter": "datum.series == 'vol'"}],
         "mark": {"type": "line", "strokeWidth": 3.8, "strokeJoin": "round"},
         "encoding": {
           "x": {"field": "date", "type": "temporal",
                 "axis": {"orient": "bottom", "domain": false, "labels": false,
                   "values": [{"year":2010,"month":4,"date":1,"utc":true},{"year":2010,"month":7,"date":1,"utc":true},{"year":2010,"month":10,"date":1,"utc":true},{"year":2011,"month":1,"date":1,"utc":true},{"year":2011,"month":4,"date":1,"utc":true}],
                   "grid": true, "gridColor": "white", "gridWidth": 2,
                   "ticks": true, "tickSize": -21, "tickColor": "black", "tickWidth": 1.5,
                   "title": "2011", "titleX": 320.4, "titleY": 25, "titleAlign": "center", "titleBaseline": "alphabetic",
                   "titleFontSize": 19.7, "titleFontWeight": "normal", "titleColor": "black"}},
           "y": {"field": "value", "type": "quantitative"},
           "color": {"field": "series", "type": "nominal", "legend": null}
         }}
      ]
    }
  ],
  "spacing": 26.5,
  "bounds": "flush",
  "resolve": {"scale": {"color": "independent"}, "legend": {"color": "independent"}}
},
{
  "width": 1228, "height": 127,
  "view": {"stroke": null, "fill": null},
  "layer": [
    {"data": {"values": [{}]},
     "mark": {"type": "rule", "color": "black", "strokeWidth": 2, "strokeCap": "square"},
     "encoding": {
       "x": {"datum": 0, "type": "quantitative", "scale": {"domain": [0, 1228], "nice": false, "zero": false}, "axis": null},
       "y": {"datum": 0, "type": "quantitative", "scale": {"domain": [0, 127], "nice": false, "reverse": true}, "axis": null},
       "y2": {"datum": 127}
     }},
    {"data": {"values": [{"text": "1"}]},
     "mark": {"type": "text", "align": "left", "baseline": "alphabetic", "fontSize": 11, "color": "black"},
     "encoding": {"text": {"field": "text"}, "x": {"datum": 25}, "y": {"datum": 17.7}}},
    {"data": {"values": [{"text": "2"}]},
     "mark": {"type": "text", "align": "left", "baseline": "alphabetic", "fontSize": 11, "color": "black"},
     "encoding": {"text": {"field": "text"}, "x": {"datum": 426}, "y": {"datum": 17.7}}},
    {"data": {"values": [{"text": "Based on \u2006two-year inflation \u2006swap prices."}]},
     "mark": {"type": "text", "align": "left", "baseline": "alphabetic", "fontSize": 19.7, "color": "black"},
     "encoding": {"text": {"field": "text"}, "x": {"datum": 40}, "y": {"datum": 26.7}}},
    {"data": {"values": [{"text": "Backed out \u2006from two-year \u2006inflation cap \u2006prices, using \u2006the model \u2006of F \u2006Black, “The \u2006pricing"}]},
     "mark": {"type": "text", "align": "left", "baseline": "alphabetic", "fontSize": 19.7, "color": "black"},
     "encoding": {"text": {"field": "text"}, "x": {"datum": 440}, "y": {"datum": 26.7}}},
    {"data": {"values": [{"text": "of \u2005commodity \u2005contracts”,"}]},
     "mark": {"type": "text", "align": "left", "baseline": "alphabetic", "fontSize": 19.7, "color": "black"},
     "encoding": {"text": {"field": "text"}, "x": {"datum": 25}, "y": {"datum": 52.7}}},
    {"data": {"values": [{"text": "Journal \u2005of \u2005Financial \u2005Economics"}]},
     "mark": {"type": "text", "align": "left", "baseline": "alphabetic", "fontSize": 19.7, "fontStyle": "italic", "color": "black"},
     "encoding": {"text": {"field": "text"}, "x": {"datum": 259.2}, "y": {"datum": 52.7}}},
    {"data": {"values": [{"text": ", \u20053, \u20051976, \u2005pp \u2005167–79, \u2005assuming \u2005a \u2005flat \u2005term \u2005structure \u2005of \u2005implied \u2005forward"}]},
     "mark": {"type": "text", "align": "left", "baseline": "alphabetic", "fontSize": 19.7, "color": "black"},
     "encoding": {"text": {"field": "text"}, "x": {"datum": 544.5}, "y": {"datum": 52.7}}},
    {"data": {"values": [{"text": "volatilities in the pricing of the series of caplets embedded in the cap."}]},
     "mark": {"type": "text", "align": "left", "baseline": "alphabetic", "fontSize": 19.7, "color": "black"},
     "encoding": {"text": {"field": "text"}, "x": {"datum": 25}, "y": {"datum": 78.7}}},
    {"data": {"values": [{"text": "Sources: Bloomberg; BIS calculations."}]},
     "mark": {"type": "text", "align": "left", "baseline": "alphabetic", "fontSize": 19.7, "color": "black"},
     "encoding": {"text": {"field": "text"}, "x": {"datum": 25}, "y": {"datum": 120.7}}},
    {"data": {"values": [{"text": "Graph 4"}]},
     "mark": {"type": "text", "align": "right", "baseline": "alphabetic", "fontSize": 19.7, "color": "black"},
     "encoding": {"text": {"field": "text"}, "x": {"datum": 1215}, "y": {"datum": 120.7}}}
  ]
}
]
}
